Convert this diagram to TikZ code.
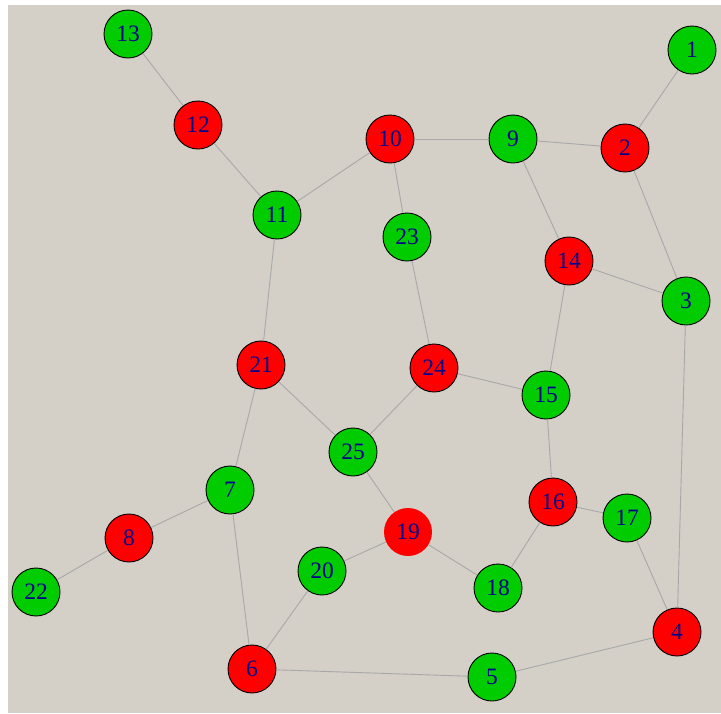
\documentclass[tikz,border=0pt]{standalone}
\usepackage{fontspec}
\setmainfont{Liberation Serif}
\definecolor{bg}{HTML}{D4D0C8}
\definecolor{gnode}{HTML}{00CC00}
\definecolor{rnode}{HTML}{FF0000}
\definecolor{lbl}{HTML}{000090}
\definecolor{edgec}{HTML}{A8A8A8}
\tikzset{
  vtx/.style={circle, minimum size=48pt, inner sep=0pt, draw=black, line width=0.9pt,
    text=lbl, font=\fontsize{23.5}{23.5}\selectfont},
  gv/.style={vtx, fill=gnode},
  rv/.style={vtx, fill=rnode},
  rvn/.style={vtx, fill=rnode, draw=none},
  edge/.style={draw=edgec, line width=0.9pt}
}
\begin{document}
\begin{tikzpicture}[x=1pt,y=-1pt]
\useasboundingbox (0,0) rectangle (721,713);
\fill[white] (0,0) rectangle (721,713);
\fill[bg] (7.5,4.5) rectangle (721,713);
\node[gv]  (n1)  at (692,50)  {1};
\node[rv]  (n2)  at (625,148) {2};
\node[gv]  (n3)  at (686,301) {3};
\node[rv]  (n4)  at (677,632) {4};
\node[gv]  (n5)  at (492,677) {5};
\node[rv]  (n6)  at (252,669) {6};
\node[gv]  (n7)  at (230,490) {7};
\node[rv]  (n8)  at (129,538) {8};
\node[gv]  (n9)  at (513,139) {9};
\node[rv]  (n10) at (390,139) {10};
\node[gv]  (n11) at (277,215) {11};
\node[rv]  (n12) at (198,125) {12};
\node[gv]  (n13) at (128,34)  {13};
\node[rv]  (n14) at (569,261) {14};
\node[gv]  (n15) at (546,395) {15};
\node[rv]  (n16) at (553,502) {16};
\node[gv]  (n17) at (627,518) {17};
\node[gv]  (n18) at (498,588) {18};
\node[rvn] (n19) at (408,532) {19};
\node[gv]  (n20) at (322,571) {20};
\node[rv]  (n21) at (261,365) {21};
\node[gv]  (n22) at (36,592)  {22};
\node[gv]  (n23) at (407,237) {23};
\node[rv]  (n24) at (434,368) {24};
\node[gv]  (n25) at (353,452) {25};
\foreach \a/\b in {n13/n12, n12/n11, n11/n10, n10/n9, n10/n23, n9/n2, n9/n14, n2/n1, n2/n3,
  n14/n3, n14/n15, n23/n24, n24/n15, n24/n25, n11/n21, n21/n25, n21/n7, n7/n8, n8/n22,
  n7/n6, n25/n19, n19/n20, n19/n18, n20/n6, n6/n5, n5/n4, n4/n3, n4/n17, n17/n16,
  n16/n15, n16/n18}
  \draw[edge] (\a) -- (\b);
\end{tikzpicture}
\end{document}
